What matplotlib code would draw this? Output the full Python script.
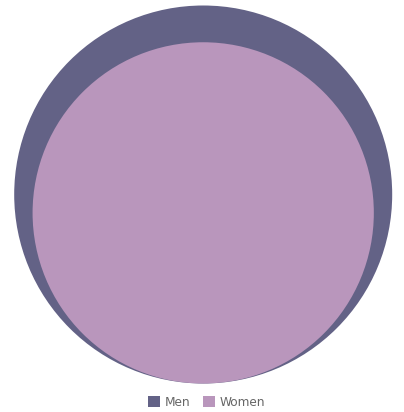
import numpy as np
import matplotlib.pyplot as plt
from matplotlib.patches import Circle, Patch

# Data
categories = ["Men", "Women"]
values = [100, 81.5]
colors = ["#636286", "#b996bc"]

fig = plt.figure(figsize=(4.04, 4.12), dpi=100)
ax = fig.add_axes([0, 0, 1, 1])
ax.set_xlim(0, 404)
ax.set_ylim(412, 0)
ax.set_aspect("equal")
ax.axis("off")

# bottom-aligned proportional-area circles
base_y = 383.5
cx = 203.2
r_max = 189.0
vmax = max(values)
for cat, v, c in zip(categories, values, colors):
    r = r_max * np.sqrt(v / vmax)
    ax.add_patch(Circle((cx, base_y - r), r, facecolor=c, edgecolor="none"))

handles = [Patch(facecolor=c, edgecolor="none", label=cat) for cat, c in zip(categories, colors)]
fig.legend(handles=handles, loc="lower center", bbox_to_anchor=(0.512, -0.018), ncol=2,
           frameon=False, fontsize=8.7, handlelength=1.0, handleheight=1.0,
           handletextpad=0.4, columnspacing=1.0, labelcolor="#666666")

fig.savefig("out.png", dpi=100)
